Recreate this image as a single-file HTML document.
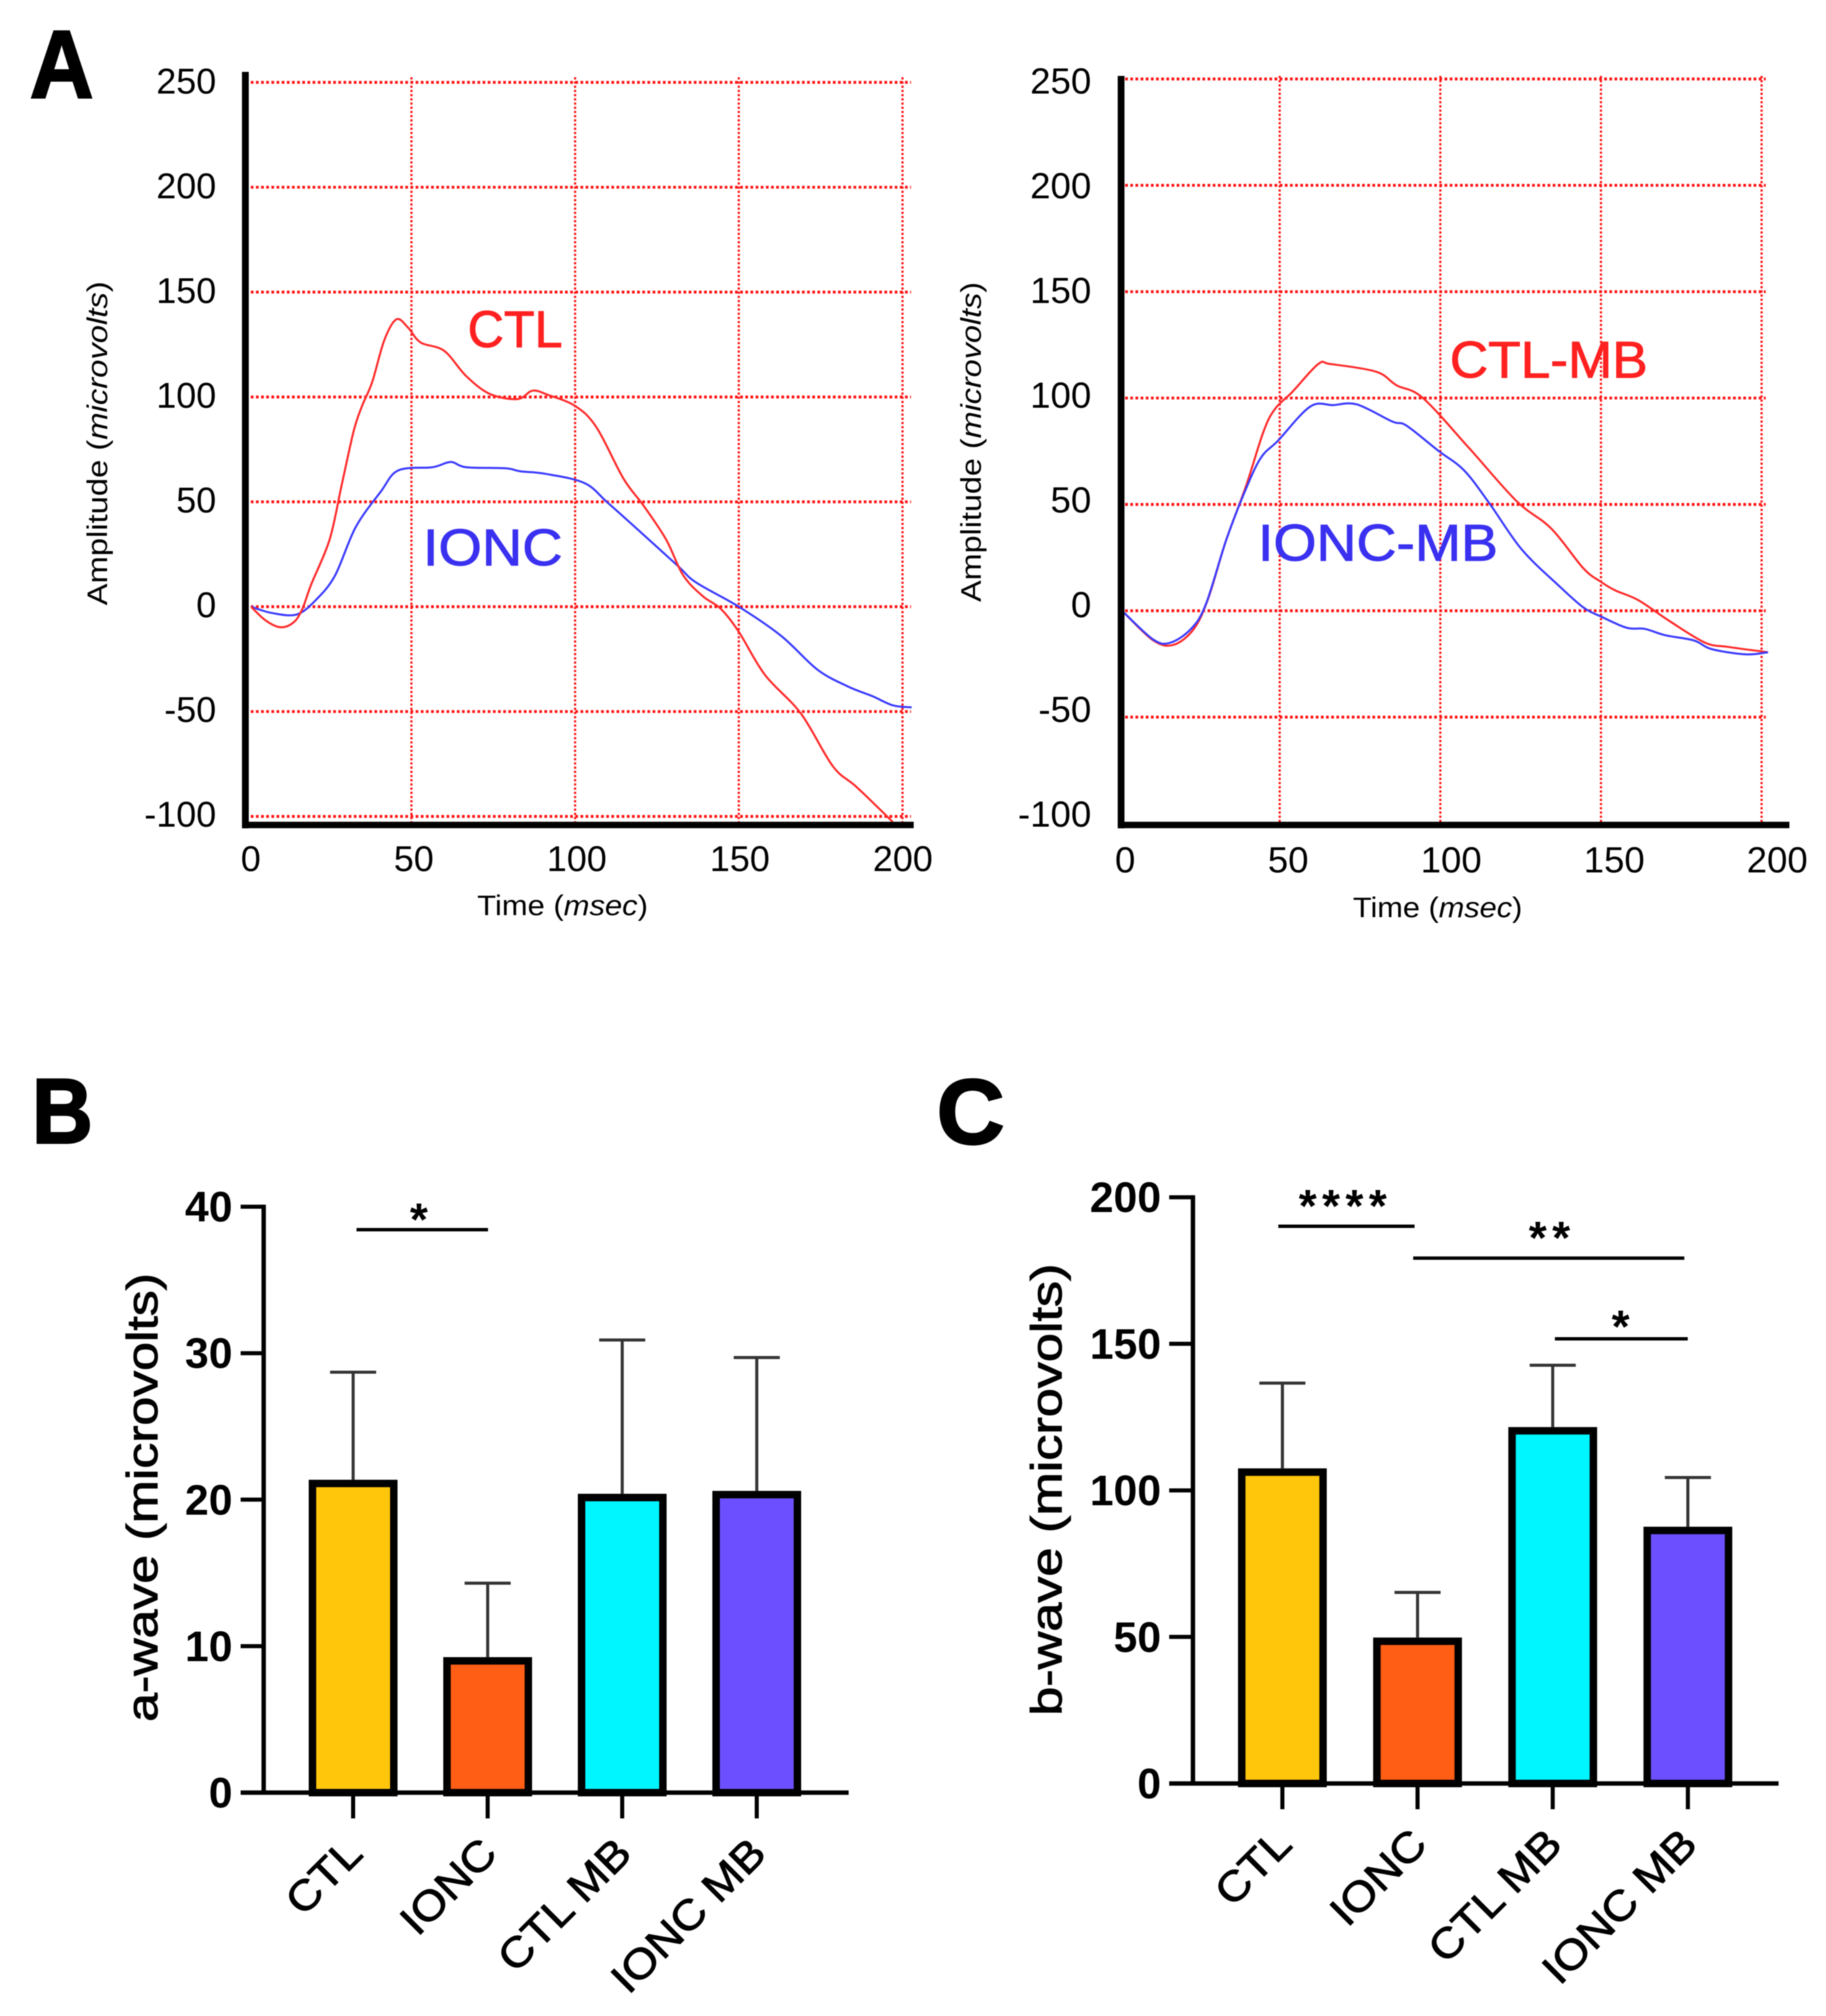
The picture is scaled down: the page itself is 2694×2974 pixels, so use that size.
<!DOCTYPE html>
<html lang="en">
<head>
<meta charset="utf-8">
<title>ERG waveforms and a-wave / b-wave amplitudes</title>
<style>
html,body{margin:0;padding:0;background:#fff;}
svg{display:block;font-family:"Liberation Sans",sans-serif;filter:blur(0.7px);}
</style>
</head>
<body>
<svg id="fig" xmlns="http://www.w3.org/2000/svg" width="2694" height="2974" viewBox="0 0 2694 2974">
<rect width="2694" height="2974" fill="#fff"/>
<text x="44" y="144" font-size="142" font-weight="bold" stroke="#000" stroke-width="3" textLength="94" lengthAdjust="spacingAndGlyphs">A</text>
<text x="47" y="1686" font-size="136" font-weight="bold" stroke="#000" stroke-width="3" textLength="90" lengthAdjust="spacingAndGlyphs">B</text>
<text x="1382" y="1687" font-size="136" font-weight="bold" stroke="#000" stroke-width="3" textLength="100" lengthAdjust="spacingAndGlyphs">C</text>

<g id="chart-ctl"></g>
<g id="chart-mb"></g>
<g id="chart-a"></g>
<g id="chart-b"></g>

<text x="690" y="512" font-size="76" fill="#ff2020" stroke="#ff2020" stroke-width="1.2" textLength="140" lengthAdjust="spacingAndGlyphs">CTL</text>
<text x="624" y="834" font-size="76" fill="#3a30f0" stroke="#3a30f0" stroke-width="1.2" textLength="206" lengthAdjust="spacingAndGlyphs">IONC</text>
<text x="2139" y="557" font-size="76" fill="#ff2020" stroke="#ff2020" stroke-width="1.2" textLength="292" lengthAdjust="spacingAndGlyphs">CTL-MB</text>
<text x="1856" y="827" font-size="76" fill="#3a30f0" stroke="#3a30f0" stroke-width="1.2" textLength="354" lengthAdjust="spacingAndGlyphs">IONC-MB</text>

<text x="704" y="1350" font-size="42" textLength="252" lengthAdjust="spacingAndGlyphs">Time (<tspan font-style="italic">msec</tspan>)</text>
<text x="1996" y="1353" font-size="42" textLength="250" lengthAdjust="spacingAndGlyphs">Time (<tspan font-style="italic">msec</tspan>)</text>
<text transform="translate(158 893) rotate(-90)" font-size="42" textLength="478" lengthAdjust="spacingAndGlyphs">Amplitude (<tspan font-style="italic">microvolts</tspan>)</text>
<text transform="translate(1447 888) rotate(-90)" font-size="42" textLength="472" lengthAdjust="spacingAndGlyphs">Amplitude (<tspan font-style="italic">microvolts</tspan>)</text>
<text transform="translate(232 2540) rotate(-90)" font-size="64" stroke="#000" stroke-width="1.2" textLength="662" lengthAdjust="spacingAndGlyphs">a-wave (microvolts)</text>
<text transform="translate(1566 2531) rotate(-90)" font-size="64" stroke="#000" stroke-width="1.2" textLength="667" lengthAdjust="spacingAndGlyphs">b-wave (microvolts)</text>
</svg>

<script>
// ---- Waveform axes ----
const waveYTicks = [250, 200, 150, 100, 50, 0, -50, -100];
const waveYLabels = ['250', '200', '150', '100', '50', '0', '-50', '-100'];
const waveXTicks = [0, 50, 100, 150, 200];
const waveXLabels = ['0', '50', '100', '150', '200'];
const waveXGrid = [50, 100, 150, 200];

// ---- Waveform series (time in msec, amplitude in microvolts) ----
const ctlTime = [1, 5.5, 10, 14, 16.7, 19.4, 25, 28.7, 32.4, 35, 38, 41.7, 45.4, 49, 52.8, 60, 66.7, 74, 82.4, 87, 91.7, 100, 106.5, 114.8, 121, 127.8, 133, 139, 144.5, 150, 158, 169, 178.7, 186, 197];
const ctlValues = [0, -6.6, -9.8, -7.5, -1, 10.7, 32, 58, 84, 96, 107, 127, 137, 133, 126, 122, 110, 101.4, 99, 103, 101, 95.7, 85.6, 61, 48, 32, 15, 5, -1, -12, -32.5, -51, -76, -86, -102.6];
const ioncTime = [1, 7.4, 15, 21, 26.7, 33, 40.7, 46, 56.5, 62, 66.7, 78.7, 83.4, 90.7, 102.8, 110, 120.4, 131.5, 137, 150, 163, 174, 183.3, 190.7, 197, 202.8];
const ioncValues = [0, -3, -3.7, 3.5, 15, 38, 55, 65, 66.5, 69, 66.5, 66, 64.5, 63.4, 59, 49.5, 35, 19.3, 11.5, 0, -14, -30, -38, -42.6, -47, -48];
const ctlMbTime = [1.6, 10.7, 17, 23.3, 27.8, 33.3, 39.6, 45, 48.6, 54, 62, 65.8, 80, 86.4, 94.6, 109, 123.7, 134.5, 144.5, 150, 154.4, 161.6, 171.5, 182.4, 189.6, 202];
const ctlMbValues = [-1, -14, -16, -8.5, 6, 33, 59, 84.4, 95, 103, 116, 116, 112.4, 106, 100, 76.4, 51.6, 38.7, 20, 13.6, 9.6, 5, -5, -15, -17, -19.5];
const ioncMbTime = [1.6, 10.7, 16, 22.4, 27, 33.3, 38.7, 44, 49.5, 59.5, 66.7, 74, 85, 89.5, 99.3, 107.4, 115.5, 125.4, 137, 144.5, 150, 158, 163.6, 170, 179, 184.4, 195, 202];
const ioncMbValues = [-1, -13.6, -15, -8.5, 3, 33, 54.4, 71.6, 80, 96, 96.7, 97, 89, 87, 75.3, 66, 50, 28.7, 11.6, 1.6, -2.7, -8, -8.5, -11.5, -14, -18, -20.5, -19.5];

// ---- Bar charts ----
const barCategories = ['CTL', 'IONC', 'CTL MB', 'IONC MB'];
const aWaveMeans = [21.36, 9.25, 20.4, 20.6];
const aWaveErrorTops = [28.7, 14.3, 30.9, 29.7];
const aWaveTicks = [0, 10, 20, 30, 40];
const bWaveMeans = [107.5, 49.8, 121.6, 87.6];
const bWaveErrorTops = [136.6, 65.2, 142.7, 104.4];
const bWaveTicks = [0, 50, 100, 150, 200];
const barColors = ['#ffc60b', '#ff5e14', '#00f6ff', '#6c50ff'];

const NS = 'http://www.w3.org/2000/svg';
function mk(parent, tag, attrs) {
  const el = document.createElementNS(NS, tag);
  for (const k in attrs) el.setAttribute(k, attrs[k]);
  parent.appendChild(el);
  return el;
}
function smoothPath(xs, ys) {
  let d = 'M' + xs[0].toFixed(1) + ' ' + ys[0].toFixed(1);
  for (let i = 0; i < xs.length - 1; i++) {
    const a = Math.max(i - 1, 0), b = Math.min(i + 2, xs.length - 1);
    const c1x = xs[i] + (xs[i + 1] - xs[a]) / 6, c1y = ys[i] + (ys[i + 1] - ys[a]) / 6;
    const c2x = xs[i + 1] - (xs[b] - xs[i]) / 6, c2y = ys[i + 1] - (ys[b] - ys[i]) / 6;
    d += 'C' + c1x.toFixed(1) + ' ' + c1y.toFixed(1) + ' ' + c2x.toFixed(1) + ' ' + c2y.toFixed(1) + ' ' + xs[i + 1].toFixed(1) + ' ' + ys[i + 1].toFixed(1);
  }
  return d;
}

function drawWaveChart(g, o) {
  const x = t => o.x0 + t * o.xPerMs;
  const y = v => o.y0 - v * o.yPerUnit;
  // tick labels sit on their own slightly different scales, as in the source figure
  const labelX = t => o.labelX0 + t * o.labelXPerMs;
  const labelY = v => 892 - v * 3.09;
  waveYTicks.forEach((v, i) => {
    const line = mk(g, 'line', { x1: o.gridLeft, x2: o.gridRight, y1: y(v), y2: y(v), stroke: '#ff1010', 'stroke-width': 4.2, 'stroke-dasharray': '4 3.6' });
    
    
    const label = mk(g, 'text', { x: o.yLabelRight, y: labelY(v) + 18.5, 'font-size': o.tickFont, 'text-anchor': 'end' });
    label.textContent = waveYLabels[i];
    
    
  });
  waveXGrid.forEach(t => {
    const line = mk(g, 'line', { x1: x(t), x2: x(t), y1: o.gridTop, y2: o.axisY, stroke: '#ff1010', 'stroke-width': 3.2, 'stroke-dasharray': '3.2 3' });
    
    
  });
  waveXTicks.forEach((t, i) => {
    const label = mk(g, 'text', { x: labelX(t), y: o.xLabelY, 'font-size': o.tickFont, 'text-anchor': 'middle' });
    label.textContent = waveXLabels[i];
    
    
  });
  o.series.forEach(s => {
    const path = mk(g, 'path', { d: smoothPath(s.time.map(x), s.values.map(y)), fill: 'none', stroke: s.color, 'stroke-width': 3, 'stroke-linejoin': 'round' });
    
    
  });
  const yAxis = mk(g, 'line', { x1: o.axisX, x2: o.axisX, y1: o.axisTop, y2: o.axisY + 5, stroke: '#000', 'stroke-width': 10 });
  
  
  const xAxis = mk(g, 'line', { x1: o.axisX, x2: o.axisRight, y1: o.axisY, y2: o.axisY, stroke: '#000', 'stroke-width': 9.5 });
  
  
}

drawWaveChart(document.getElementById('chart-ctl'), {
  x0: 365.5, xPerMs: 4.83, y0: 895, yPerUnit: 3.094,
  labelX0: 370, labelXPerMs: 4.81,
  gridLeft: 370, gridRight: 1344, gridTop: 114,
  axisX: 362, axisTop: 106, axisY: 1217, axisRight: 1348,
  yLabelRight: 319, xLabelY: 1285, tickFont: 53,
  series: [
    { name: 'ionc-curve', time: ioncTime, values: ioncValues, color: '#3a3aff' },
    { name: 'ctl-curve', time: ctlTime, values: ctlValues, color: '#ff2a2a' }
  ]
});
drawWaveChart(document.getElementById('chart-mb'), {
  x0: 1651, xPerMs: 4.74, y0: 901, yPerUnit: 3.138,
  labelX0: 1660, labelXPerMs: 4.81,
  gridLeft: 1660, gridRight: 2605, gridTop: 112,
  axisX: 1654, axisTop: 112, axisY: 1217, axisRight: 2640,
  yLabelRight: 1610, xLabelY: 1287, tickFont: 54,
  series: [
    { name: 'ctl-mb-curve', time: ctlMbTime, values: ctlMbValues, color: '#ff2a2a' },
    { name: 'ionc-mb-curve', time: ioncMbTime, values: ioncMbValues, color: '#3a3aff' }
  ]
});

function drawBarChart(g, o) {
  const x = i => o.x0 + i * o.step;
  const y = v => o.y0 - v * o.yPerUnit;
  o.means.forEach((m, i) => {
    const stem = mk(g, 'line', { x1: x(i), x2: x(i), y1: y(o.errors[i]), y2: y(m), stroke: '#333', 'stroke-width': 4.5 });
    
    
    const cap = mk(g, 'line', { x1: x(i) - 34, x2: x(i) + 34, y1: y(o.errors[i]), y2: y(o.errors[i]), stroke: '#333', 'stroke-width': 4.5 });
    
    
    const bar = mk(g, 'rect', { x: x(i) - o.barW / 2 + 5.5, y: y(m) + 5.5, width: o.barW - 11, height: o.y0 - y(m) - 5.5, fill: barColors[i], stroke: '#000', 'stroke-width': 11 });
    
    
    const tick = mk(g, 'line', { x1: x(i), x2: x(i), y1: o.y0, y2: o.y0 + 38, stroke: '#000', 'stroke-width': 6 });
    
    
    const label = mk(g, 'text', { transform: 'translate(' + (x(i) + 17) + ' ' + (o.y0 + 93) + ') rotate(-45) scale(1.1 1)', 'font-size': 62, 'text-anchor': 'end', stroke: '#000', 'stroke-width': 1.2 });
    label.textContent = barCategories[i];
    
    
  });
  const yAxis = mk(g, 'line', { x1: o.axisX, x2: o.axisX, y1: y(o.ticks[o.ticks.length - 1]) - 3, y2: o.y0, stroke: '#000', 'stroke-width': 6.5 });
  
  
  const xAxis = mk(g, 'line', { x1: o.axisLeft, x2: o.axisRight, y1: o.y0, y2: o.y0, stroke: '#000', 'stroke-width': 6.5 });
  
  
  o.ticks.forEach(v => {
    const tick = mk(g, 'line', { x1: o.axisLeft, x2: o.axisX, y1: y(v), y2: y(v), stroke: '#000', 'stroke-width': 6 });
    
    
    const label = mk(g, 'text', { x: o.axisLeft - 12, y: y(v) + 22, 'font-size': 63, 'font-weight': 'bold', 'text-anchor': 'end' });
    label.textContent = String(v);
    
    
  });
  o.sig.forEach(s => {
    const line = mk(g, 'line', { x1: s.x1, x2: s.x2, y1: s.y, y2: s.y, stroke: '#000', 'stroke-width': 5 });
    
    
    const stars = mk(g, 'text', { x: s.sx, y: s.sy + 34, 'font-size': 68, 'font-weight': 'bold', 'text-anchor': 'middle', 'letter-spacing': 8 });
    stars.textContent = s.label;
    
    
  });
}

drawBarChart(document.getElementById('chart-a'), {
  x0: 521, step: 198.5, barW: 131, y0: 2644.5, yPerUnit: 21.61,
  axisX: 389, axisLeft: 355, axisRight: 1252,
  means: aWaveMeans, errors: aWaveErrorTops, ticks: aWaveTicks,
  sig: [{ x1: 526, x2: 720, y: 1814, sx: 622, sy: 1788, label: '*' }]
});
drawBarChart(document.getElementById('chart-b'), {
  x0: 1892, step: 199.4, barW: 131, y0: 2631, yPerUnit: 4.324,
  axisX: 1760, axisLeft: 1725, axisRight: 2624,
  means: bWaveMeans, errors: bWaveErrorTops, ticks: bWaveTicks,
  sig: [
    { x1: 1886, x2: 2087, y: 1809, sx: 1985, sy: 1768, label: '****' },
    { x1: 2085, x2: 2485, y: 1856, sx: 2290, sy: 1815, label: '**' },
    { x1: 2294, x2: 2490, y: 1975, sx: 2395, sy: 1946, label: '*' }
  ]
});
</script>
</body>
</html>
